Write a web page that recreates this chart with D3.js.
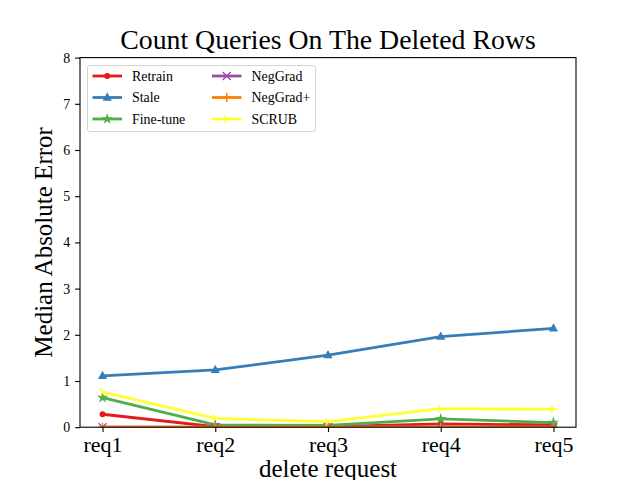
<!DOCTYPE html>
<html lang="en">
<head>
<meta charset="UTF-8">
<title>Count Queries On The Deleted Rows</title>
<script src="https://d3js.org/d3.v7.min.js"></script>
<style>
  body { margin: 0; background: #fff; }
  text { font-family: "Liberation Serif", "Times New Roman", serif; }
</style>
</head>
<body>
<div id="chart"></div>
<script>
// data
var requests = ["req1", "req2", "req3", "req4", "req5"];
var retrain  = [0.28, 0.01, 0.01, 0.07, 0.05];
var stale    = [1.11, 1.24, 1.56, 1.96, 2.14];
var finetune = [0.64, 0.05, 0.04, 0.18, 0.10];
var neggrad  = [0, 0, 0, 0, 0];
var neggradp = [0, 0, 0, 0, 0];
var scrub    = [0.76, 0.19, 0.12, 0.40, 0.39];
var yTicks   = [0, 1, 2, 3, 4, 5, 6, 7, 8];

var series = [
  { name: "Retrain",   values: retrain,  color: "#e41a1c", marker: "dot" },
  { name: "Stale",     values: stale,    color: "#377eb8", marker: "tri" },
  { name: "Fine-tune", values: finetune, color: "#4daf4a", marker: "star" },
  { name: "NegGrad",   values: neggrad,  color: "#984ea3", marker: "x" },
  { name: "NegGrad+",  values: neggradp, color: "#ff7f00", marker: "plus" },
  { name: "SCRUB",     values: scrub,    color: "#ffff33", marker: "triright" }
];

var W = 640, H = 480;
var m = { left: 80, right: 64, top: 57.6, bottom: 52.8 };
var pw = W - m.left - m.right, ph = H - m.top - m.bottom;

var svg = d3.select("#chart").append("svg")
    .attr("width", W).attr("height", H);

var x = d3.scaleLinear().domain([-0.2, 4.2]).range([0, pw]);
var y = d3.scaleLinear().domain([0, 8]).range([ph, 0]);

var g = svg.append("g").attr("transform", "translate(" + m.left + "," + m.top + ")");

g.append("clipPath").attr("id", "clip")
  .append("rect").attr("width", pw).attr("height", ph);

// markers
function drawMarker(sel, type, color) {
  if (type === "dot") {
    sel.append("circle").attr("r", 3).attr("fill", color);
  } else if (type === "tri") {
    sel.append("path").attr("d", "M0,-5.2L4.6,3.2L-4.6,3.2Z").attr("fill", color);
  } else if (type === "star") {
    sel.append("path").attr("d", d3.symbol().type(d3.symbolStar).size(40)()).attr("fill", color);
  } else if (type === "x") {
    sel.append("path").attr("d", "M-4,-4L4,4M-4,4L4,-4").attr("stroke", color).attr("stroke-width", 1.4);
  } else if (type === "plus") {
    sel.append("path").attr("d", "M-4.5,0L4.5,0M0,-4.5L0,4.5").attr("stroke", color).attr("stroke-width", 1.4);
  } else if (type === "triright") {
    sel.append("path").attr("d", "M0,0L4.5,0M0,0L-2.3,-3.9M0,0L-2.3,3.9").attr("stroke", color).attr("stroke-width", 1.4);
  }
}

var plot = g.append("g").attr("clip-path", "url(#clip)");
var line = d3.line().x(function(d, i) { return x(i); }).y(function(d) { return y(d); });

series.forEach(function(s) {
  var sg = plot.append("g");
  sg.append("path").datum(s.values)
    .attr("d", line)
    .attr("fill", "none")
    .attr("stroke", s.color)
    .attr("stroke-width", 2.8)
    .attr("stroke-linejoin", "round");
  sg.selectAll("g.mk").data(s.values).enter().append("g")
    .attr("transform", function(d, i) { return "translate(" + x(i) + "," + y(d) + ")"; })
    .each(function() { drawMarker(d3.select(this), s.marker, s.color); });
});

// axes
var xAxis = g.append("g").attr("transform", "translate(0," + ph + ")")
  .call(d3.axisBottom(x).tickValues(d3.range(requests.length))
    .tickFormat(function(i) { return requests[i]; }).tickSize(4.9).tickPadding(4));
xAxis.selectAll("text").attr("font-size", 22).attr("fill", "#000")
  .style("font-family", "Liberation Serif");

var yAxis = g.append("g")
  .call(d3.axisLeft(y).tickValues(yTicks).tickFormat(d3.format("d")).tickSize(4.9).tickPadding(4.9));
yAxis.selectAll("text").attr("font-size", 13.9).attr("fill", "#000")
  .style("font-family", "Liberation Serif");

[xAxis, yAxis].forEach(function(a) {
  a.select(".domain").remove();
  a.selectAll("line").attr("stroke", "#000").attr("stroke-width", 1.1);
});

g.append("rect").attr("width", pw).attr("height", ph)
  .attr("fill", "none").attr("stroke", "#000").attr("stroke-width", 1.1);

// titles
svg.append("text").attr("x", m.left + pw / 2).attr("y", 49)
  .attr("text-anchor", "middle").attr("font-size", 27.8)
  .text("Count Queries On The Deleted Rows");
svg.append("text").attr("x", m.left + pw / 2).attr("y", 477)
  .attr("text-anchor", "middle").attr("font-size", 25)
  .text("delete request");
svg.append("text")
  .attr("transform", "translate(52," + (m.top + ph / 2) + ") rotate(-90)")
  .attr("text-anchor", "middle").attr("font-size", 25)
  .text("Median Absolute Error");

// legend
var lg = svg.append("g").attr("transform", "translate(87.5,65.5)");
lg.append("rect").attr("width", 228).attr("height", 66).attr("rx", 2.5)
  .attr("fill", "#fff").attr("fill-opacity", 0.8)
  .attr("stroke", "#d6d6d6").attr("stroke-width", 1);

series.forEach(function(s, i) {
  var col = Math.floor(i / 3), row = i % 3;
  var it = lg.append("g")
    .attr("transform", "translate(" + (5 + col * 119.5) + "," + (10.5 + row * 21.5) + ")");
  it.append("line").attr("x1", 0).attr("x2", 29.5)
    .attr("stroke", s.color).attr("stroke-width", 2.8);
  var mk = it.append("g").attr("transform", "translate(14.75,0)");
  drawMarker(mk, s.marker, s.color);
  it.append("text").attr("x", 39.5).attr("y", 4.8)
    .attr("font-size", 13.9).text(s.name);
});
</script>
</body>
</html>
